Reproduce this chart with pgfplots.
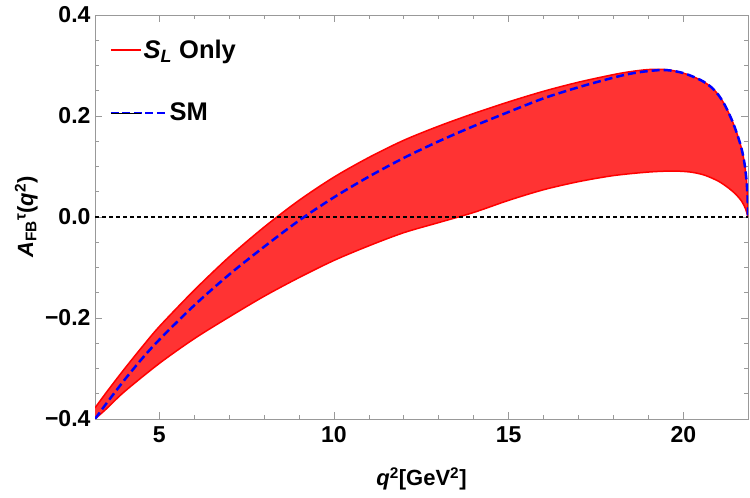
\documentclass[border=0pt]{standalone}
\usepackage{fontspec}
\setmainfont{Liberation Sans}
\usepackage{pgfplots}
\usepackage{pgfplotstable}
\pgfplotsset{compat=1.18}
\usepgfplotslibrary{fillbetween}
\definecolor{bandred}{RGB}{255,51,51}
\definecolor{framegray}{gray}{0.6}

\pgfplotstableread{
x y
3.16 -0.378
3.5 -0.346
4 -0.301
4.5 -0.258
5 -0.217
6 -0.145
7 -0.079
8 -0.020
9 0.033
10 0.079
11 0.118
12 0.152
13 0.180
14 0.205
15 0.228
16 0.249
17 0.267
18 0.282
18.5 0.288
19 0.292
19.5 0.292
20 0.285
20.5 0.271
20.8 0.257
21.0 0.242
21.2 0.220
21.4 0.190
21.55 0.162
21.67 0.134
21.75 0.106
21.81 0.070
21.84 0.035
21.85 0.0
}\tabupper

\pgfplotstableread{
x y
3.16 -0.400
3.5 -0.379
4 -0.346
5 -0.290
6 -0.241
7 -0.198
8 -0.157
9 -0.120
10 -0.086
11 -0.057
12 -0.031
13 -0.011
14 0.009
15 0.033
16 0.054
17 0.070
18 0.082
19 0.089
19.7 0.091
20.2 0.089
20.6 0.083
21.0 0.071
21.3 0.057
21.5 0.045
21.67 0.031
21.78 0.016
21.85 0.0
}\tablower

\pgfplotstableread{
x y
3.16 -0.400
3.5 -0.368
4 -0.323
4.5 -0.281
5 -0.243
6 -0.175
7 -0.114
8 -0.059
9 -0.007
10 0.039
11 0.080
12 0.117
13 0.150
14 0.180
15 0.208
16 0.235
17 0.257
18 0.276
18.5 0.284
19 0.289
19.5 0.291
20 0.285
20.5 0.271
20.8 0.257
21.0 0.242
21.2 0.220
21.4 0.190
21.55 0.162
21.67 0.134
21.75 0.106
21.81 0.070
21.84 0.035
21.85 0.0
}\tabsm

\begin{document}
\begin{tikzpicture}
\begin{axis}[
  set layers,
  at={(95pt,79pt)}, anchor=south west,
  scale only axis, width=653pt, height=404pt,
  xmin=3.16, xmax=21.85, ymin=-0.4, ymax=0.4,
  xtick={5,10,15,20}, xticklabels={5,10,15,20},
  ytick={-0.4,-0.2,0,0.2,0.4}, yticklabels={−0.4,−0.2,0.0,0.2,0.4},
  minor x tick num=4, minor y tick num=3,
  tick align=inside, tick pos=both,
  major tick length=7pt, minor tick length=4pt,
  axis line style={framegray, line width=0.8pt},
  every tick/.style={framegray, line width=0.8pt},
  tick label style={font=\fontsize{23}{27}\selectfont\bfseries, text=black},
  xticklabel style={yshift=-4pt},
  yticklabel style={xshift=-1pt},
  xlabel={\textit{q}\textsuperscript{2}[GeV\textsuperscript{2}]},
  ylabel={\textit{A}\textsubscript{FB}\textsuperscript{τ}(\textit{q}\textsuperscript{2})},
  label style={font=\fontsize{22}{26}\selectfont\bfseries},
  xlabel style={at={(axis description cs:0.5,-0.1658)}, anchor=base},
  ylabel style={at={(axis description cs:-0.0949,0.5)}, anchor=base},
  legend style={at={(axis description cs:0,1)}, anchor=north west,
    xshift=12pt, yshift=-21pt, draw=none, fill=none,
    font=\fontsize{25.5}{29}\selectfont\bfseries, row sep=39pt},
  legend cell align=left,
]
\addplot[name path=up, red, line width=1.5pt, smooth, forget plot] table {\tabupper};
\addplot[name path=lo, red, line width=1.5pt, smooth, forget plot] table {\tablower};
\addplot[bandred, forget plot] fill between[of=up and lo];
\addplot[black, line width=2.5pt, dash pattern=on 4pt off 3pt, forget plot] coordinates {(3.16,0) (21.85,0)};
\addplot[blue, line width=2.5pt, dash pattern=on 8pt off 4pt, smooth, forget plot] table {\tabsm};

\addlegendimage{legend image code/.code={\draw[red, line width=1.5pt] (0pt,0pt) -- (30pt,0pt);}}
\addlegendentry{\textit{S}\textsubscript{\textit{L}} Only}
\addlegendimage{legend image code/.code={\draw[overlay, blue, line width=2.5pt, dash pattern=on 8pt off 3.5pt] (0pt,0pt) -- (57pt,0pt); \path (0pt,0pt) -- (30pt,0pt);}}
\addlegendentry{\textcolor{white}{\rule[-6pt]{26pt}{0.01pt}}SM}
\end{axis}
\pgfresetboundingbox
\useasboundingbox (0,0) rectangle (750pt,498pt);
\end{tikzpicture}
\end{document}
